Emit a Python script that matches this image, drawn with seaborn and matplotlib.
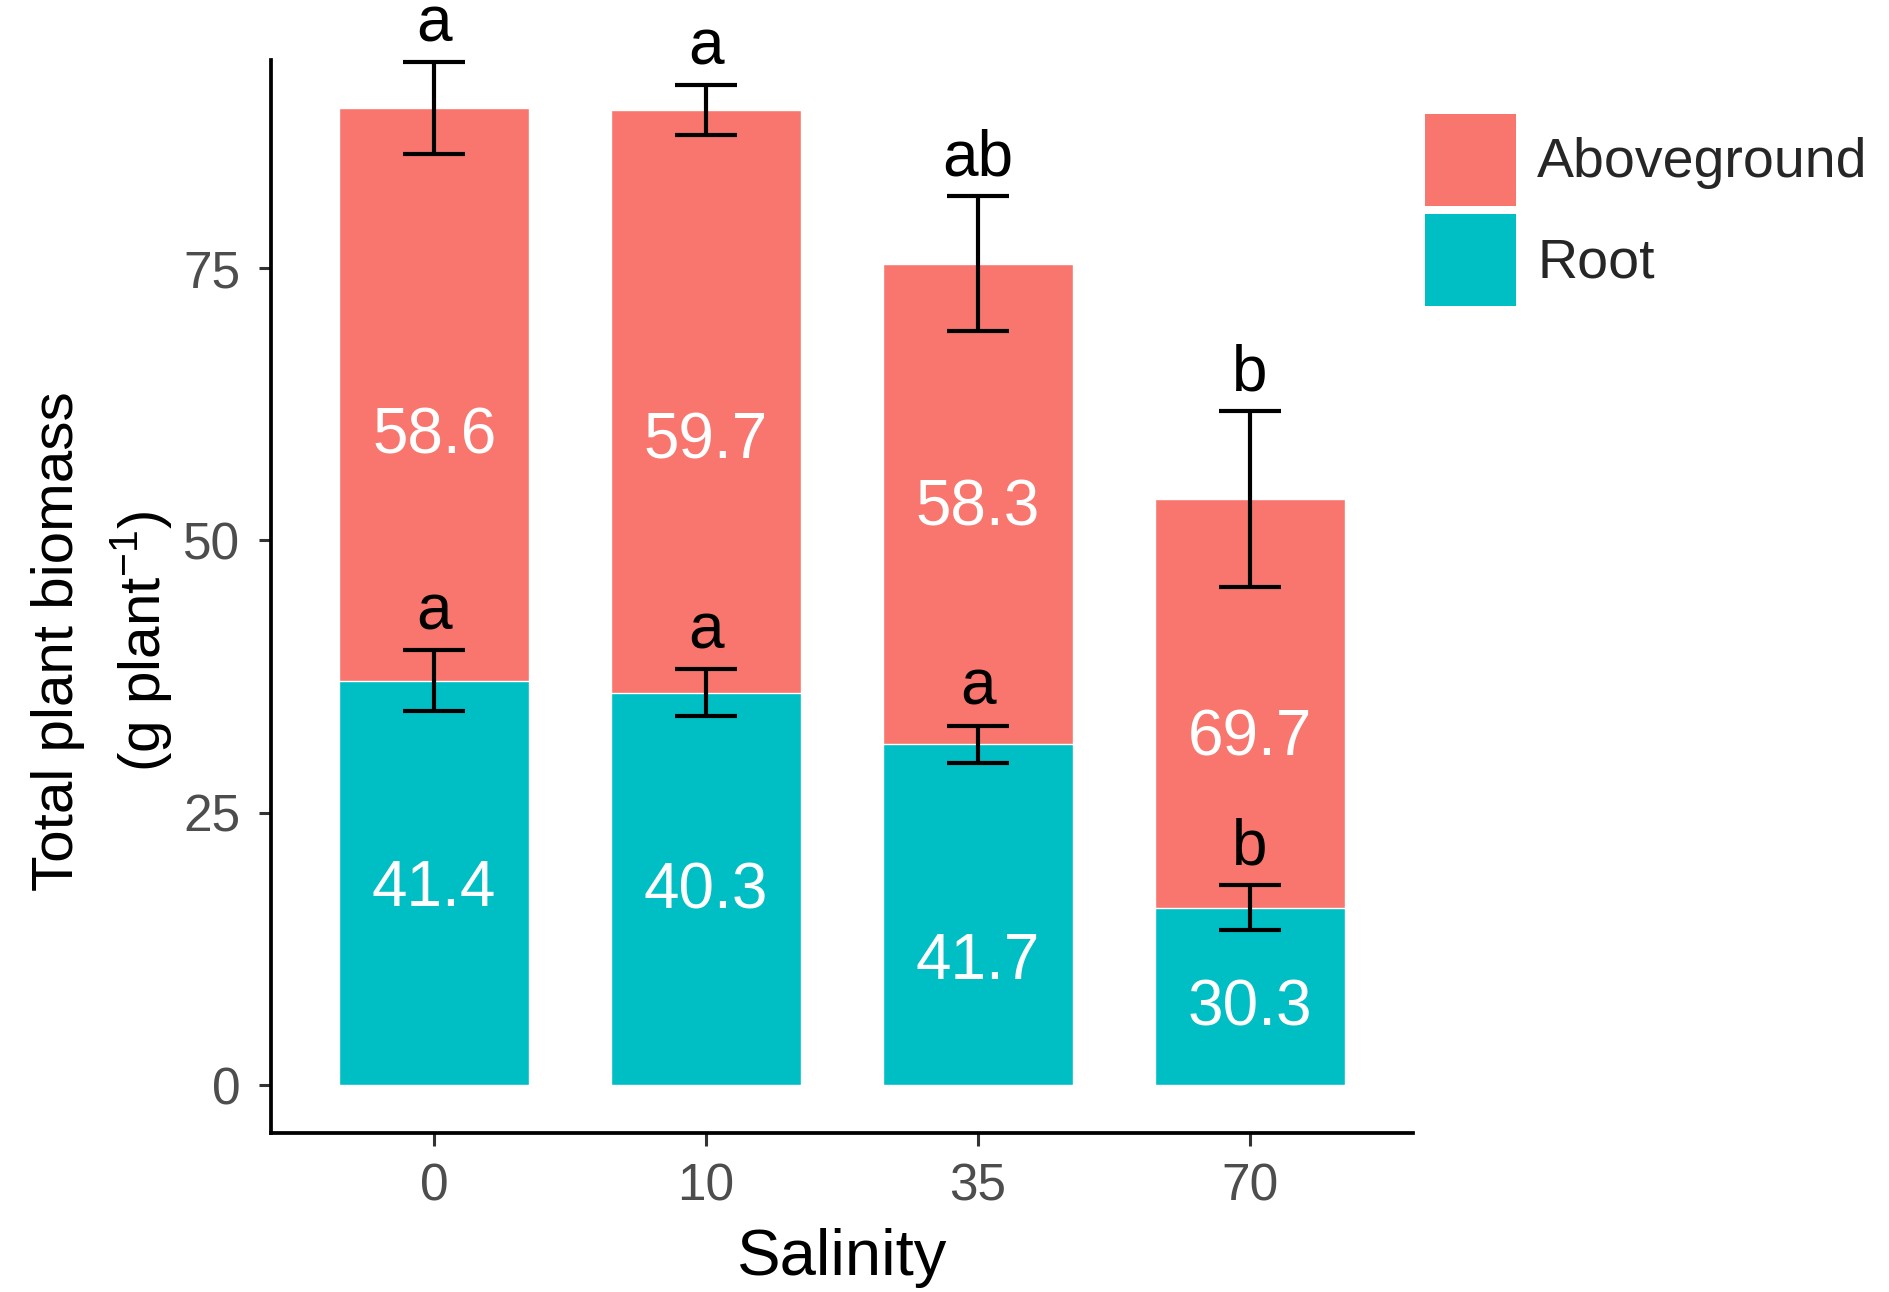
import matplotlib
matplotlib.use("Agg")
import matplotlib.pyplot as plt
from matplotlib.patches import Patch
import seaborn as sns
import pandas as pd

sns.set_theme(style="white")
plt.rcParams['font.family'] = ['Liberation Sans', 'DejaVu Sans']

# data
salinity = ["0", "10", "35", "70"]
total = [89.7, 89.5, 75.4, 53.8]
total_se = [4.2, 2.3, 6.2, 8.1]
root = [37.1, 36.0, 31.3, 16.3]
root_se = [2.8, 2.15, 1.7, 2.05]
pct_above = ["58.6", "59.7", "58.3", "69.7"]
pct_root = ["41.4", "40.3", "41.7", "30.3"]
pct_above_y = [59.5, 59.1, 52.9, 31.8]
pct_root_y = [18.0, 17.8, 11.3, 7.0]
letters_total = ["a", "a", "ab", "b"]
letters_root = ["a", "a", "a", "b"]

red = "#F8766D"
teal = "#00BFC4"

df = pd.DataFrame({"Salinity": salinity, "total": total, "root": root})

fig = plt.figure(figsize=(18.9, 12.92), dpi=100)
ax = fig.add_axes([271 / 1890, 1 - 1133 / 1292, (1413 - 271) / 1890, (1133 - 60) / 1292])

sns.barplot(data=df, x="Salinity", y="total", color=red, width=0.7,
            saturation=1, ax=ax)
sns.barplot(data=df, x="Salinity", y="root", color=teal, width=0.7,
            saturation=1, ax=ax)

xs = range(len(salinity))
ax.errorbar(xs, total, yerr=total_se, fmt="none", ecolor="black",
            elinewidth=3, capsize=22, capthick=3, clip_on=False, zorder=5)
ax.errorbar(xs, root, yerr=root_se, fmt="none", ecolor="black",
            elinewidth=3, capsize=22, capthick=3, clip_on=False, zorder=5)

for i in xs:
    ax.text(i, total[i] + total_se[i] + 1.9, letters_total[i], ha="center",
            va="baseline", fontsize=46, color="black", clip_on=False)
    ax.text(i, root[i] + root_se[i] + 1.9, letters_root[i], ha="center",
            va="baseline", fontsize=46, color="black")
    ax.text(i, pct_above_y[i], pct_above[i], ha="center", va="center",
            fontsize=46, color="white")
    ax.text(i, pct_root_y[i], pct_root[i], ha="center", va="center",
            fontsize=46, color="white")

ax.set_xlim(-0.6, 3.6)
ax.set_ylim(-4.4, 94.1)
ax.set_yticks([0, 25, 50, 75])

for side in ["top", "right"]:
    ax.spines[side].set_visible(False)
for side in ["left", "bottom"]:
    ax.spines[side].set_color("black")
    ax.spines[side].set_linewidth(2.7)

ax.tick_params(axis="both", which="major", length=9, width=2.2,
               color="#333333", labelsize=37, labelcolor="#4D4D4D",
               left=True, bottom=True)
ax.tick_params(axis="y", pad=13)
ax.tick_params(axis="x", pad=12)

ax.set_xlabel("Salinity", fontsize=47, color="black")
ax.set_ylabel("Total plant biomass\n(g plant$^{\\mathregular{-1}}$)",
              fontsize=42, color="black", linespacing=1.45)
ax.xaxis.set_label_coords(0.5, -0.0885)
ax.yaxis.set_label_coords(-0.084, 0.4585)

handles = [Patch(facecolor=red, edgecolor="none", label="Aboveground"),
           Patch(facecolor=teal, edgecolor="none", label="Root")]
fig.legend(handles=handles, loc="upper left",
           bbox_to_anchor=(1425 / 1890, 1 - 114 / 1292), frameon=False,
           fontsize=40, handlelength=1.64, handleheight=2.17,
           labelspacing=0.15, handletextpad=0.38, borderpad=0,
           borderaxespad=0)

fig.savefig("out.png", dpi=100)
